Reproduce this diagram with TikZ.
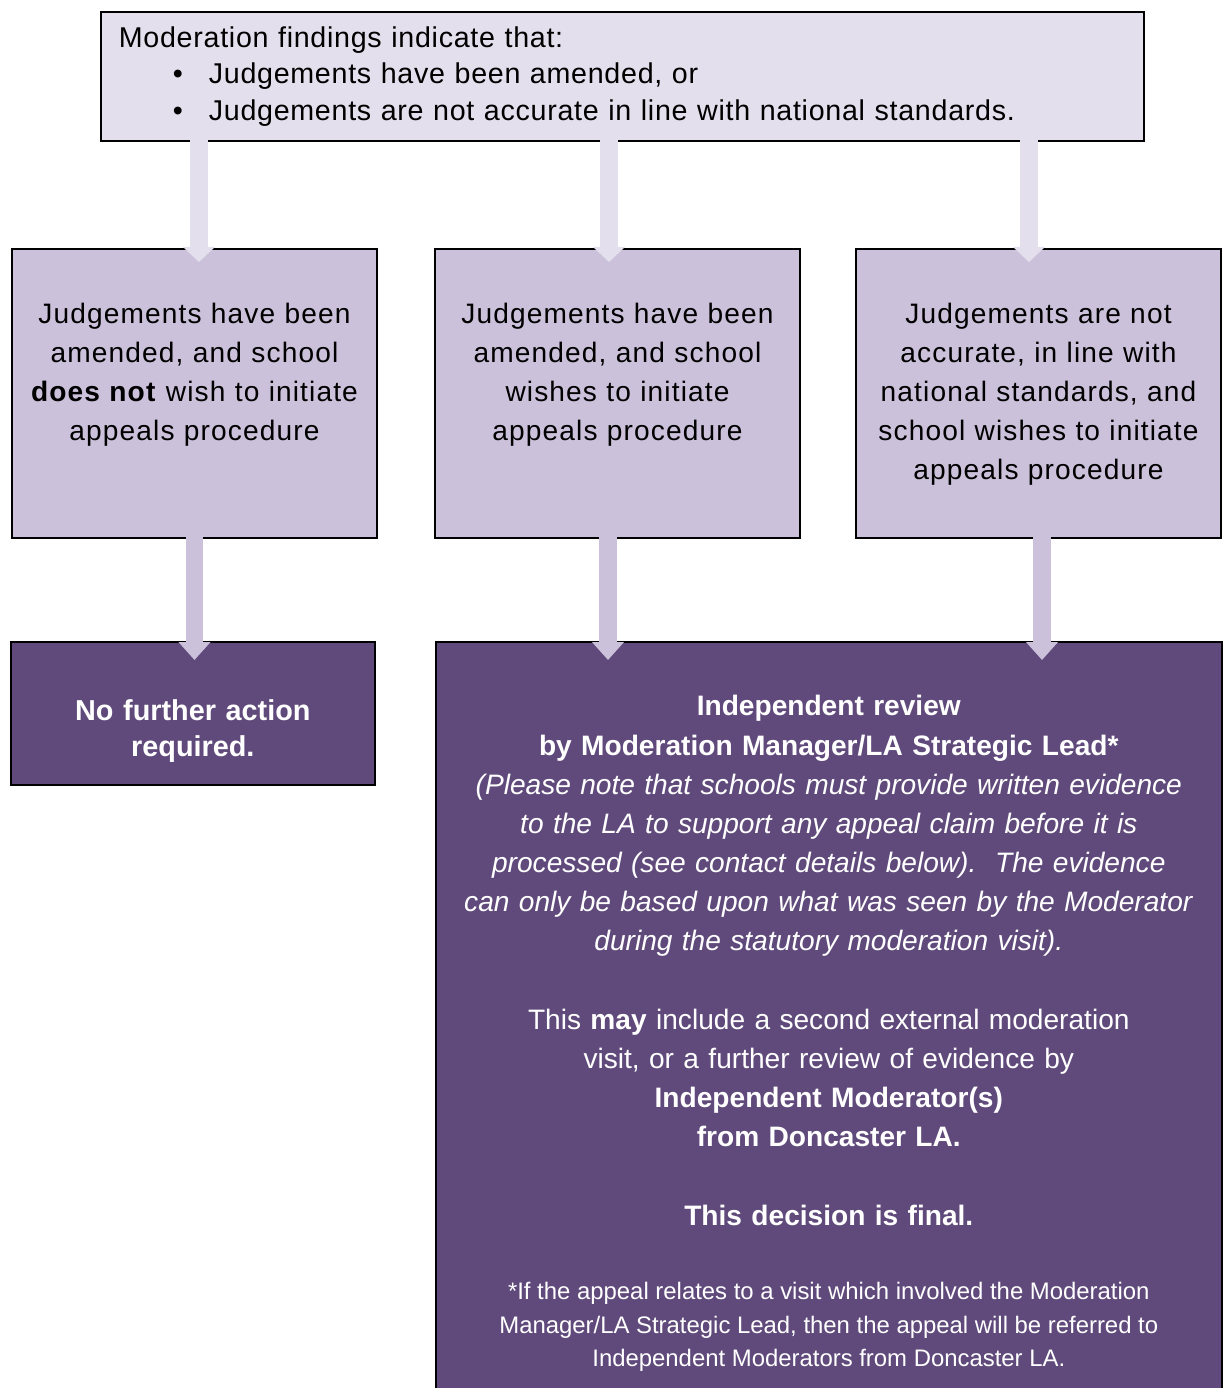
\documentclass[tikz,border=0pt]{standalone}
\usepackage{fontspec}
\setmainfont{Liberation Sans}
\usepackage{tikz}
\usetikzlibrary{arrows.meta,calc}
\definecolor{paleplum}{HTML}{E4DFEC}
\definecolor{lilac}{HTML}{CCC1DA}
\definecolor{plum}{HTML}{604A7B}

\begin{document}
\begin{tikzpicture}[x=0.02cm, y=-0.02cm,
  box/.style={draw=black, line width=1pt, rectangle, inner ysep=0pt, inner xsep=0.1cm},
  findbox/.style={box, fill=paleplum, anchor=north west, text width=20.14cm, inner xsep=0.36cm, minimum height=2.58cm, align=left, font=\fontsize{16.3}{20.8}\selectfont\addfontfeature{LetterSpace=2.5}},
  judgebox/.style={box, fill=lilac, anchor=north, text width=7.1cm, align=center, text height=1.5cm, text depth=4.28cm, font=\fontsize{16}{22.2}\selectfont\addfontfeature{LetterSpace=4}},
  endbox/.style={box, fill=plum, text=white, anchor=north west, align=center, font=\fontsize{16}{22.3}\selectfont},
  upflow/.style={draw=paleplum, line width=0.35cm, -{Triangle[width=0.62cm,length=0.3cm]}},
  downflow/.style={draw=lilac, line width=0.35cm, -{Triangle[width=0.62cm,length=0.36cm]}}]
\useasboundingbox (0,0) rectangle (1223,1388);

\node[findbox] (findings) at (100,11) {Moderation findings indicate that:\\
  \hspace*{1.08cm}\makebox[0.72cm][l]{\textbullet}Judgements have been amended, or\\
  \hspace*{1.08cm}\makebox[0.72cm][l]{\textbullet}Judgements are not accurate in line with national standards.};

\node[judgebox] (noappeal) at (194.5,248) {Judgements have been\\ amended, and school\\ \textbf{does not} wish to initiate\\ appeals procedure};
\node[judgebox] (appealamended) at (617.5,248) {Judgements have been\\ amended, and school\\ wishes to initiate\\ appeals procedure};
\node[judgebox] (appealinaccurate) at (1038.5,248) {Judgements are not\\ accurate, in line with\\ national standards, and\\ school wishes to initiate\\ appeals procedure};

\node[endbox, text width=7.08cm, text height=1.58cm, text depth=1.28cm, font=\fontsize{16.4}{20.5}\selectfont\bfseries] (noaction) at (10,641) {No further action\\ required.};

\node[endbox, text width=15.52cm, text height=1.48cm, text depth=13.6cm] (review) at (435,641) {\textbf{Independent review}\\
  \textbf{by Moderation Manager/LA Strategic Lead*}\\
  \textit{(Please note that schools must provide written evidence}\\
  \textit{to the LA to support any appeal claim before it is}\\
  \textit{processed (see contact details below).\ \ The evidence}\\
  \textit{can only be based upon what was seen by the Moderator}\\
  \textit{during the statutory moderation visit).}\\[22.3pt]
  This \textbf{may} include a second external moderation\\
  visit, or a further review of evidence by\\
  \textbf{Independent Moderator(s)}\\
  \textbf{from Doncaster LA.}\\[22.3pt]
  \textbf{This decision is final.}\par
  \vspace{23.5pt}
  {\centering\fontsize{13.6}{19}\selectfont\spaceskip=0pt\xspaceskip=0pt *If the appeal relates to a visit which involved the Moderation\\
  Manager/LA Strategic Lead, then the appeal will be referred to\\
  Independent Moderators from Doncaster LA.\par}};

\draw[upflow] ($(findings.south -| noappeal.north)+(0.09cm,0.04cm)$) -- ($(noappeal.north)+(0.09cm,-0.28cm)$);
\draw[upflow] ($(findings.south -| appealamended.north)+(-0.17cm,0.04cm)$) -- ($(appealamended.north)+(-0.17cm,-0.28cm)$);
\draw[upflow] ($(findings.south -| appealinaccurate.north)+(-0.19cm,0.04cm)$) -- ($(appealinaccurate.north)+(-0.19cm,-0.28cm)$);

\draw[downflow] ($(noappeal.south)+(0cm,0.04cm)$) -- ($(noappeal.south |- noaction.north)+(0cm,-0.38cm)$);
\draw[downflow] ($(appealamended.south)+(-0.19cm,0.04cm)$) -- ($(appealamended.south |- review.north)+(-0.19cm,-0.38cm)$);
\draw[downflow] ($(appealinaccurate.south)+(0.07cm,0.04cm)$) -- ($(appealinaccurate.south |- review.north)+(0.07cm,-0.38cm)$);
\end{tikzpicture}
\end{document}
